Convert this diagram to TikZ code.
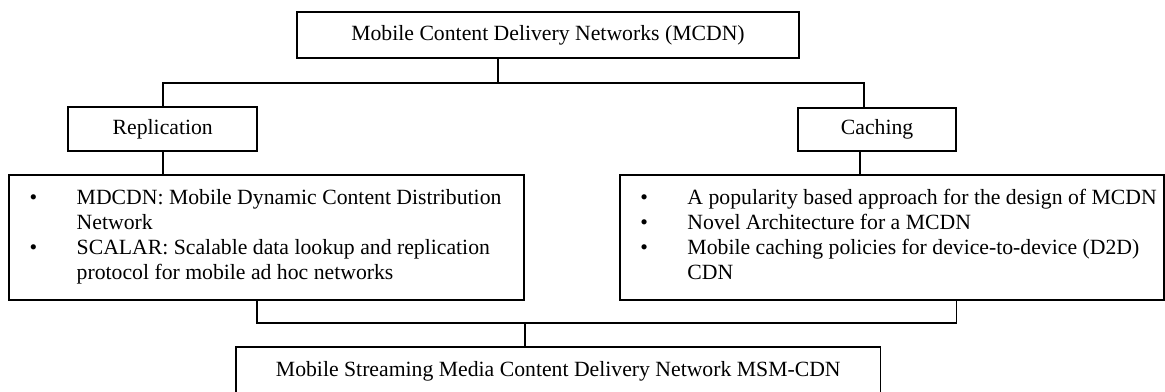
\documentclass[tikz,border=0pt]{standalone}
\usepackage{fontspec}
\setmainfont{Liberation Serif}
\usepackage{array}
\usetikzlibrary{positioning, calc}
\tikzset{
  % --- Cay phan loai MCDN -----------------------------------
  headbox/.style={draw, line width=1pt, fill=white, align=center,
    font=\fontsize{12}{13.8}\selectfont, inner sep=0pt},
  listbox/.style={draw, line width=1pt, fill=white,
    font=\fontsize{12}{13.8}\selectfont, inner sep=0pt},
  fline/.style={line width=1pt}
}

\begin{document}
\begin{tikzpicture}[x=1cm, y=1cm]

  \useasboundingbox (0,0) rectangle (22.62,-7.61);

  % ---------- Nut goc ----------
  \node[headbox, minimum width=9.75cm, minimum height=0.89cm] (mcdn)
    at (10.64,-0.68) {Mobile Content Delivery Networks (MCDN)};

  % ---------- Hai nhanh ----------
  \node[headbox, minimum width=3.67cm, minimum height=0.85cm] (repl)
    at (3.16,-2.51) {Replication};
  \node[headbox, minimum width=3.07cm, minimum height=0.84cm] (cach)
    at (17.03,-2.51) {Caching};

  % ---------- Danh sach cong trinh ----------
  \node[listbox, minimum width=10cm, minimum height=2.43cm] (repllist)
    at (5.18,-4.61)
    {\begin{tabular}{@{\hspace{11pt}}p{26pt}@{}p{247pt}@{}}
       \textbullet & MDCDN: Mobile Dynamic Content Distribution\newline Network\\
       \textbullet & SCALAR: Scalable data lookup and replication\newline
                     protocol for mobile ad hoc networks
     \end{tabular}};
  \node[listbox, minimum width=10.56cm, minimum height=2.43cm] (cachlist)
    at (17.32,-4.61)
    {\begin{tabular}{@{\hspace{11pt}}p{26pt}@{}p{263pt}@{}}
       \textbullet & A popularity based approach for the design of MCDN\\
       \textbullet & Novel Architecture for a MCDN\\
       \textbullet & Mobile caching policies for device-to-device (D2D)\newline CDN
     \end{tabular}};

  % ---------- Nut ket qua ----------
  \node[headbox, minimum width=12.51cm, minimum height=0.95cm] (msm)
    at (10.84,-7.215)
    {Mobile Streaming Media Content Delivery Network MSM-CDN};

  % ---------- Ket noi ----------
  \coordinate (topjoin) at (9.67,-1.61);
  \coordinate (botjoin) at (10.20,-6.27);
  \draw[fline] (mcdn.south -| topjoin) -- (topjoin);
  \draw[fline] (repl.north) |- (topjoin) -| ($(cach.north)+(-0.25,0)$);
  \draw[fline] (repl.south) -- (repl.south |- repllist.north);
  \draw[fline] ($(cach.south)+(-0.33,0)$) coordinate (cdrop)
    -- (cdrop |- cachlist.north);
  \draw[fline] ($(repllist.south)+(-0.19,0)$) |- (botjoin)
    -| ($(cachlist.south)+(1.25,0)$);
  \draw[fline] (botjoin) -- (botjoin |- msm.north);

\end{tikzpicture}
\end{document}
